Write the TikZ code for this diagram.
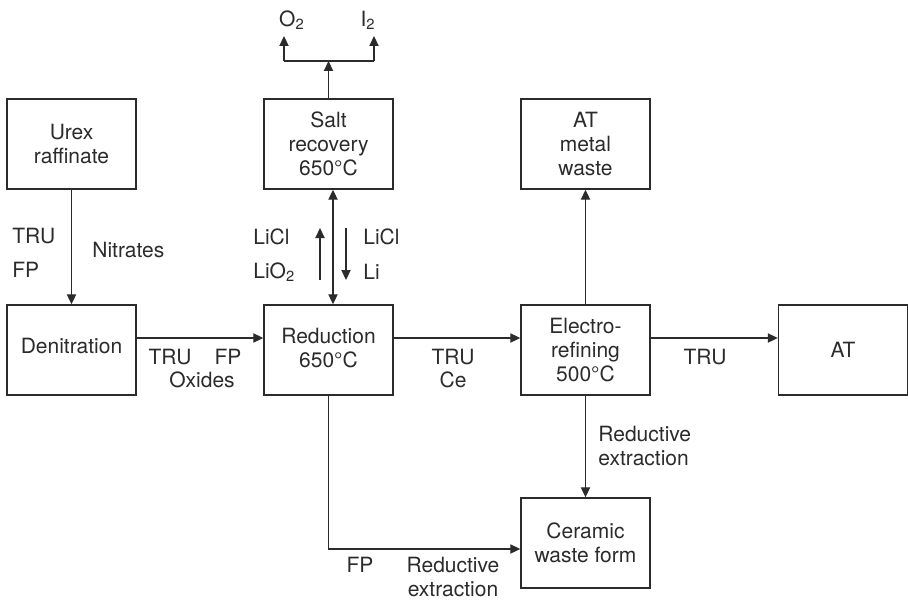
\documentclass[tikz,border=0pt]{standalone}
\usepackage{fontspec}
\setmainfont{TeX Gyre Heros}
\usetikzlibrary{arrows.meta}
\definecolor{ink}{HTML}{2B2B2B}

\begin{document}
\begin{tikzpicture}[x=0.5pt,y=-0.5pt,
  box/.style={draw=ink, line width=0.7pt, minimum width=64.5pt, minimum height=45pt, align=center, inner sep=1pt, font=\fontsize{10.5}{12}\selectfont, text=ink},
  flow/.style={draw=ink, line width=0.65pt, -{Triangle[length=5pt,width=4.6pt]}},
  both/.style={draw=ink, line width=0.65pt, {Triangle[length=5pt,width=4.6pt]}-{Triangle[length=5pt,width=4.6pt]}},
  plain/.style={draw=ink, line width=0.65pt},
  lbl/.style={inner sep=0pt, font=\fontsize{10.5}{12}\selectfont, text=ink}]
\useasboundingbox (0,0) rectangle (908,599);
% boxes
\node[box] (urex) at (71.5,144) {Urex\\raffinate};
\node[box] (denit) at (71.5,350) {\raisebox{4.5pt}{Denitration}};
\node[box] (salt) at (328.5,144) {Salt\\recovery\\650°C};
\node[box] (red) at (328.5,350) {\raisebox{2.5pt}{Reduction}\\\raisebox{2.5pt}{650°C}};
\node[box] (elec) at (585.5,350) {Electro-\\refining\\500°C};
\node[box] (atmw) at (585.5,144) {AT\\metal\\waste};
\node[box] (at) at (843,350) {AT};
\node[box] (cer) at (585.5,543) {Ceramic\\waste form};
% off-gas branch
\coordinate (jn) at (328.5,61);
\coordinate (jl) at (284,61);
\coordinate (jr) at (374,61);
\coordinate (tl) at (284,36);
\coordinate (tr) at (374,36);
\node[lbl] (o2) at (292,20) {O\textsubscript{2}};
\node[lbl] (i2) at (368,20) {I\textsubscript{2}};
\draw[flow] (salt) -- (jn);
\draw[plain] (jl) -- (jr);
\draw[flow] (jl) -- (tl);
\draw[flow] (jr) -- (tr);
% main line
\draw[flow] (urex) -- (denit);
\draw[flow] ([yshift=6pt]denit.east) -- ([yshift=6pt]red.west);
\draw[flow] ([yshift=6pt]red.east) -- ([yshift=6pt]elec.west);
\draw[flow] ([yshift=6pt]elec.east) -- ([yshift=6pt]at.west);
\draw[flow] (elec) -- (atmw);
\draw[flow] (elec) -- (cer);
\draw[flow] (red.south) |- ([yshift=-3pt]cer.west);
\draw[both] ([xshift=2.25pt]salt.south) -- ([xshift=2.25pt]red.north);
% salt loop arrows
\coordinate (ua) at (320,280);
\coordinate (ub) at (320,228);
\coordinate (da) at (346,228);
\coordinate (db) at (346,280);
\draw[flow] (ua) -- (ub);
\draw[flow] (da) -- (db);
% labels
\node[lbl, anchor=west] (tru1) at (12,236) {TRU};
\node[lbl, anchor=west] (fp1) at (12,270) {FP};
\node[lbl, anchor=west] (nitr) at (92,250) {Nitrates};
\node[lbl] (tru2) at (170,357) {TRU};
\node[lbl] (fp2) at (228,357) {FP};
\node[lbl] (oxid) at (202,380) {Oxides};
\node[lbl, anchor=west] (licl1) at (253,237) {LiCl};
\node[lbl, anchor=west] (lio2) at (253,272) {LiO\textsubscript{2}};
\node[lbl, anchor=west] (licl2) at (363,237) {LiCl};
\node[lbl, anchor=west] (li) at (363,272) {Li};
\node[lbl] (tru3) at (453,357) {TRU};
\node[lbl] (ce) at (453,380) {Ce};
\node[lbl] (tru4) at (705,357) {TRU};
\node[lbl, anchor=west, align=left] (rex1) at (598,446) {Reductive\\extraction};
\node[lbl] (fp3) at (360,565) {FP};
\node[lbl, align=center] (rex2) at (453,577) {Reductive\\extraction};
\end{tikzpicture}
\end{document}
